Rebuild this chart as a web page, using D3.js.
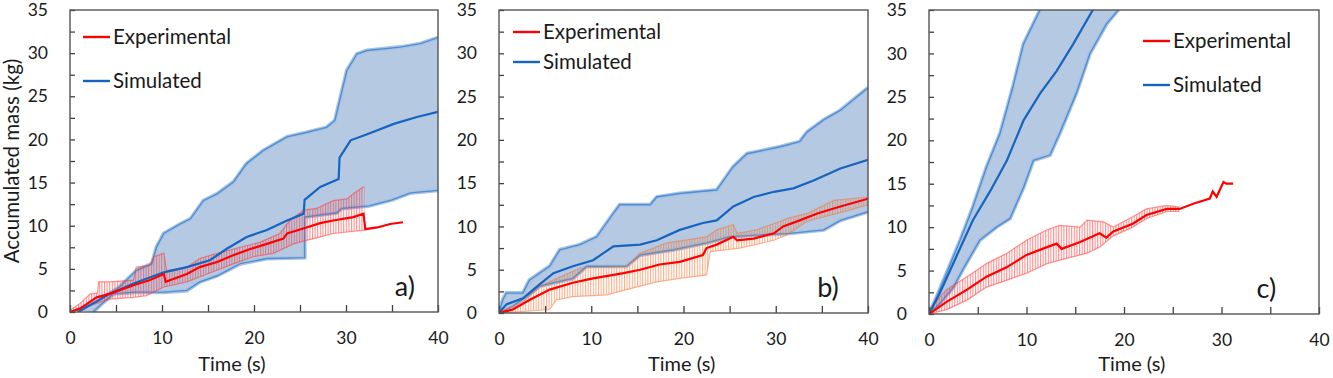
<!DOCTYPE html>
<html>
<head>
<meta charset="utf-8">
<script src="https://cdn.jsdelivr.net/npm/d3@7"></script>
<style>
  body { margin: 0; background: #fff; }
  text { font-family: Lato, "Open Sans", sans-serif; fill: #1a1a1a; }
</style>
</head>
<body>
<svg id="chart" width="1333" height="378"></svg>
<script>
// values, [time (s), mass (kg)]
// panel a
var simMeanA = [[0.9,0],[2.2,0.8],[4.3,2.1],[6.9,3.3],[10.2,4.6],[12.7,5.2],[15.2,6.0],[17.0,7.3],[19.2,8.7],[21.4,9.5],[23.6,10.6],[25.4,11.4],[25.5,13.0],[27.2,14.5],[29.2,15.4],[29.3,17.9],[30.5,19.9],[32.3,20.6],[35.2,21.8],[37.7,22.6],[40,23.2]];
var simUpA = [[0.7,0.2],[2.9,1.2],[5.4,2.9],[7.2,4.8],[8.9,5.6],[9.4,7.5],[10.2,9.1],[12.0,10.2],[13.1,10.8],[14.5,12.9],[16.0,13.7],[17.8,15.1],[19.2,17.2],[21.0,18.7],[23.6,20.3],[25.7,20.8],[27.9,21.4],[28.8,22.2],[29.4,24.9],[30.1,28.0],[31.2,29.9],[32.3,30.3],[35.9,30.7],[38.1,31.1],[40,31.8]];
var simLowA = [[2.5,0],[3.3,0.8],[4.7,2.1],[7.0,2.3],[10.2,2.3],[12.7,2.5],[14.1,3.5],[16.0,4.2],[18.5,5.6],[21.4,6.2],[25.5,6.3],[25.5,11.0],[29.0,11.5],[29.5,12.0],[32.5,12.3],[35.0,13.0],[37.0,13.8],[40,14.1]];
var expMeanA = [[0,0],[1.1,0.4],[2.2,1.2],[2.9,1.7],[4.3,2.1],[6.9,3.1],[8.7,3.7],[10.2,4.4],[10.4,3.5],[12.7,4.4],[14.1,5.2],[16.0,5.8],[17.8,6.6],[19.6,7.3],[21.4,7.9],[23.2,8.5],[23.6,9.1],[25.7,9.8],[27.2,10.3],[28.6,10.6],[30.8,11.0],[31.9,11.4],[32.1,9.6],[33.4,9.8],[34.8,10.2],[36.2,10.4]];
var expUpA = [[0,0.2],[1.1,1.0],[2.2,2.1],[3.0,2.2],[3.1,3.5],[4.3,3.5],[6.9,3.7],[7.2,5.2],[8.7,5.4],[9.1,6.4],[10.2,6.8],[10.5,4.8],[12.7,5.2],[14.1,6.2],[16.0,6.8],[18.5,7.5],[20.7,8.1],[22.8,9.1],[23.9,10.6],[25.4,11.8],[26.8,12.0],[28.6,12.9],[30.1,13.1],[30.8,13.7],[31.9,14.5],[32.0,14.5]];
var expLowA = [[0,0],[2.9,1.0],[4.3,1.5],[6.9,1.7],[8.3,1.9],[10.2,2.9],[12.7,3.5],[14.9,4.4],[17.8,5.6],[19.9,6.4],[22.1,6.8],[24.3,7.9],[25.7,8.3],[27.2,8.7],[28.6,9.1],[32.0,9.5]];

// panel b
var simMeanB = [[0,0],[0.8,1.0],[2.6,1.7],[4.4,3.3],[5.9,4.6],[8.0,5.4],[10.2,6.1],[12.4,7.7],[15.3,7.9],[17.1,8.4],[19.6,9.6],[22.1,10.4],[23.6,10.7],[25.4,12.3],[27.6,13.4],[29.8,14.0],[31.9,14.4],[34.1,15.3],[37.0,16.7],[40,17.7]];
var simUpB = [[0,0],[0.4,1.5],[0.8,2.3],[2.6,2.3],[3.3,3.8],[5.5,5.4],[6.6,7.3],[8.8,7.9],[10.6,8.8],[12.4,11.5],[13.1,12.5],[16.4,12.5],[17.1,13.4],[19.6,13.8],[23.6,14.2],[25.4,16.9],[26.9,18.4],[30.5,19.2],[32.6,19.8],[33.4,20.9],[35.2,22.3],[37.0,23.4],[40,26.0]];
var simLowB = [[0,0],[1.5,0.8],[3.0,1.9],[4.4,3.1],[5.9,3.5],[8.0,4.0],[9.5,5.4],[13.8,5.4],[15.3,6.7],[18.9,7.3],[22.5,8.1],[25.0,8.8],[27.9,9.0],[31.5,9.2],[35.2,9.6],[37.0,10.7],[40,11.7]];
var expMeanB = [[0,0],[1.5,0.4],[3.3,1.5],[5.5,2.7],[8.0,3.5],[10.2,4.0],[13.5,4.6],[15.3,5.0],[17.4,5.6],[19.6,5.9],[22.1,6.7],[22.5,7.5],[23.6,7.9],[25.4,8.8],[25.8,8.4],[27.6,8.6],[29.8,9.2],[30.8,10.0],[32.6,10.7],[34.5,11.5],[37.0,12.3],[40,13.2]];
var expUpB = [[0,0],[2.6,1.3],[4.4,3.1],[5.9,3.8],[8.8,5.2],[13.8,5.4],[15.3,6.9],[18.2,8.1],[22.5,8.8],[23.6,9.6],[25.4,10.2],[25.8,9.2],[27.9,9.6],[30.5,10.6],[31.2,10.9],[33.4,11.5],[36.3,13.0],[40,13.4]];
var expLowB = [[0,0],[3.0,0.2],[5.5,0.4],[6.2,1.5],[8.0,1.9],[11.7,2.1],[13.8,2.7],[17.1,3.6],[19.6,4.0],[22.5,4.4],[22.9,7.1],[26.1,7.5],[29.8,8.4],[31.2,9.0],[33.4,10.6],[37.0,11.6],[40,12.5]];

// panel c
var simMeanC = [[0,0],[1.1,2.4],[2.8,6.6],[4.5,10.8],[6.3,14.2],[8.0,17.7],[9.7,22.3],[11.4,25.4],[13.1,28.0],[14.8,31.1],[16.8,35.0],[17.5,36.4]];
var simUpC = [[0,0],[0.8,2.0],[1.8,4.7],[3.2,8.5],[4.5,12.3],[5.9,16.9],[7.3,20.8],[8.6,26.1],[9.7,31.1],[10.7,33.4],[11.4,35.0],[12.0,36.4]];
var simLowC = [[0,0],[1.1,1.2],[2.5,3.1],[3.5,5.2],[5.2,8.5],[6.9,10.0],[8.3,11.0],[9.7,14.6],[10.7,17.7],[12.4,18.3],[13.4,20.8],[15.1,25.4],[16.5,30.0],[18.2,33.4],[19.4,35.0],[20.0,36.4]];
var expMeanC = [[0,0],[1.8,1.4],[3.9,2.8],[5.9,4.3],[8.0,5.4],[10.0,6.8],[12.1,7.7],[13.1,8.1],[13.6,7.5],[15.5,8.3],[17.5,9.3],[18.2,8.8],[18.9,9.5],[20.9,10.4],[22.3,11.4],[24.4,12.1],[25.7,12.1],[27.1,12.7],[28.8,13.3],[29.1,14.1],[29.5,13.5],[30.2,15.2],[30.5,15.0],[31.2,15.0]];
var expUpC = [[0,0.5],[1.8,2.8],[3.9,4.3],[5.9,5.8],[8.0,7.0],[10.0,8.5],[12.1,9.7],[13.4,10.2],[15.5,10.0],[16.2,10.8],[17.9,10.6],[18.9,10.0],[20.9,11.2],[22.3,12.1],[24.4,12.5],[25.7,12.3]];
var expLowC = [[0,0],[1.8,0.5],[3.9,1.6],[5.9,3.1],[8.0,3.9],[10.0,4.7],[12.1,5.8],[14.1,6.4],[16.2,7.0],[17.5,7.7],[18.9,9.0],[20.9,10.0],[22.3,11.0],[24.4,11.8],[25.7,11.8]];

var xTicks = [0, 10, 20, 30, 40];
var yTicks = [0, 5, 10, 15, 20, 25, 30, 35];
var panelLabels = ["a)", "b)", "c)"];
var legendNames = ["Experimental", "Simulated"];

var panels = [
  {left: 70, right: 438, bottom: 312, sm: simMeanA, su: simUpA, sl: simLowA, em: expMeanA, eu: expUpA, el: expLowA,
   errColor: "#ff3b3b", leg: [83, 37, 81], lab: [35.3, 2.9], title: 17.6, ylab: true},
  {left: 499, right: 868, bottom: 313, sm: simMeanB, su: simUpB, sl: simLowB, em: expMeanB, eu: expUpB, el: expLowB,
   errColor: "#f07838", leg: [513, 32, 62], lab: [34.5, 2.9], title: 19.8, ylab: false},
  {left: 929, right: 1319, bottom: 314, sm: simMeanC, su: simUpC, sl: simLowC, em: expMeanC, eu: expUpC, el: expLowC,
   errColor: "#ff3b3b", leg: [1143, 41, 85], lab: [33.6, 2.9], title: 20.8, ylab: false}
];

var svg = d3.select("#chart");
var defs = svg.append("defs");
var plotTop = 10;

panels.forEach(function(p, i) {
  var x = d3.scaleLinear().domain([0, 40]).range([p.left, p.right]);
  var y = d3.scaleLinear().domain([0, 35]).range([p.bottom, plotTop]);
  var line = d3.line().x(function(d) { return x(d[0]); }).y(function(d) { return y(d[1]); });

  defs.append("clipPath").attr("id", "clip" + i)
    .append("rect").attr("x", p.left).attr("y", plotTop)
    .attr("width", p.right - p.left).attr("height", p.bottom - plotTop);

  // vertical hatch for the experimental error bars
  var pat = defs.append("pattern").attr("id", "hatch" + i)
    .attr("patternUnits", "userSpaceOnUse").attr("width", 2.6).attr("height", 6);
  pat.append("line").attr("x1", 0.6).attr("x2", 0.6).attr("y1", 0).attr("y2", 6)
    .attr("stroke", p.errColor).attr("stroke-width", 0.9).attr("stroke-opacity", 0.7);

  var g = svg.append("g").attr("clip-path", "url(#clip" + i + ")");

  // simulated band
  g.append("path")
    .attr("d", line(p.su.concat(p.sl.slice().reverse())) + "Z")
    .attr("fill", "#b5c9e2");
  [p.su, p.sl].forEach(function(s) {
    g.append("path").attr("d", line(s)).attr("fill", "none")
      .attr("stroke", "#a8c2e2").attr("stroke-width", 4);
    g.append("path").attr("d", line(s)).attr("fill", "none")
      .attr("stroke", "#4d8fd6").attr("stroke-width", 1.4);
  });

  // experimental error bars
  g.append("path")
    .attr("d", line(p.eu.concat(p.el.slice().reverse())) + "Z")
    .attr("fill", "url(#hatch" + i + ")");
  [p.eu, p.el].forEach(function(s) {
    g.append("path").attr("d", line(s)).attr("fill", "none")
      .attr("stroke", p.errColor).attr("stroke-width", 1.2).attr("stroke-opacity", 0.55);
  });

  g.append("path").attr("d", line(p.sm)).attr("fill", "none")
    .attr("stroke", "#1565c0").attr("stroke-width", 2.2);
  g.append("path").attr("d", line(p.em)).attr("fill", "none")
    .attr("stroke", "#ff0000").attr("stroke-width", 2.2);

  // axes with inward ticks
  var yAxis = d3.axisLeft(y).tickValues(d3.range(0, 35.1, 2.5)).tickSize(-5).tickPadding(22)
    .tickFormat(function(d) { return yTicks.indexOf(d) >= 0 ? d : ""; });
  var gy = svg.append("g").attr("transform", "translate(" + p.left + ",0)").call(yAxis);
  var xAxis = d3.axisBottom(x).tickValues(d3.range(0, 40.1, 5)).tickSize(-7).tickPadding(20)
    .tickFormat(function(d) { return xTicks.indexOf(d) >= 0 ? d : ""; });
  var gx = svg.append("g").attr("transform", "translate(0," + p.bottom + ")").call(xAxis);
  [gx, gy].forEach(function(a) {
    a.select(".domain").remove();
    a.selectAll("line").attr("stroke", "#404040").attr("stroke-width", 1.3);
    a.selectAll("text").attr("font-size", 17.5).attr("font-family", "Lato, 'Open Sans', sans-serif").attr("fill", "#1a1a1a");
  });

  svg.append("rect").attr("x", p.left).attr("y", plotTop)
    .attr("width", p.right - p.left).attr("height", p.bottom - plotTop)
    .attr("fill", "none").attr("stroke", "#555").attr("stroke-width", 1.4);

  svg.append("text").attr("x", x(p.title)).attr("y", 371)
    .attr("text-anchor", "middle").attr("font-size", 20).text("Time (s)");

  if (p.ylab) {
    svg.append("text").attr("transform", "translate(19,161) rotate(-90)")
      .attr("text-anchor", "middle").attr("font-size", 20.5).text("Accumulated mass (kg)");
  }

  svg.append("text").attr("x", x(p.lab[0])).attr("y", y(p.lab[1]) + 9)
    .attr("font-size", 27).text(panelLabels[i]);

  // legend
  var lx = p.leg[0];
  [["#ff0000", p.leg[1]], ["#1565c0", p.leg[2]]].forEach(function(l, k) {
    svg.append("line").attr("x1", lx).attr("x2", lx + 27).attr("y1", l[1]).attr("y2", l[1])
      .attr("stroke", l[0]).attr("stroke-width", 2.4);
    svg.append("text").attr("x", lx + 30).attr("y", l[1] + 7).attr("font-size", 20.5).text(legendNames[k]);
  });
});
</script>
</body>
</html>
